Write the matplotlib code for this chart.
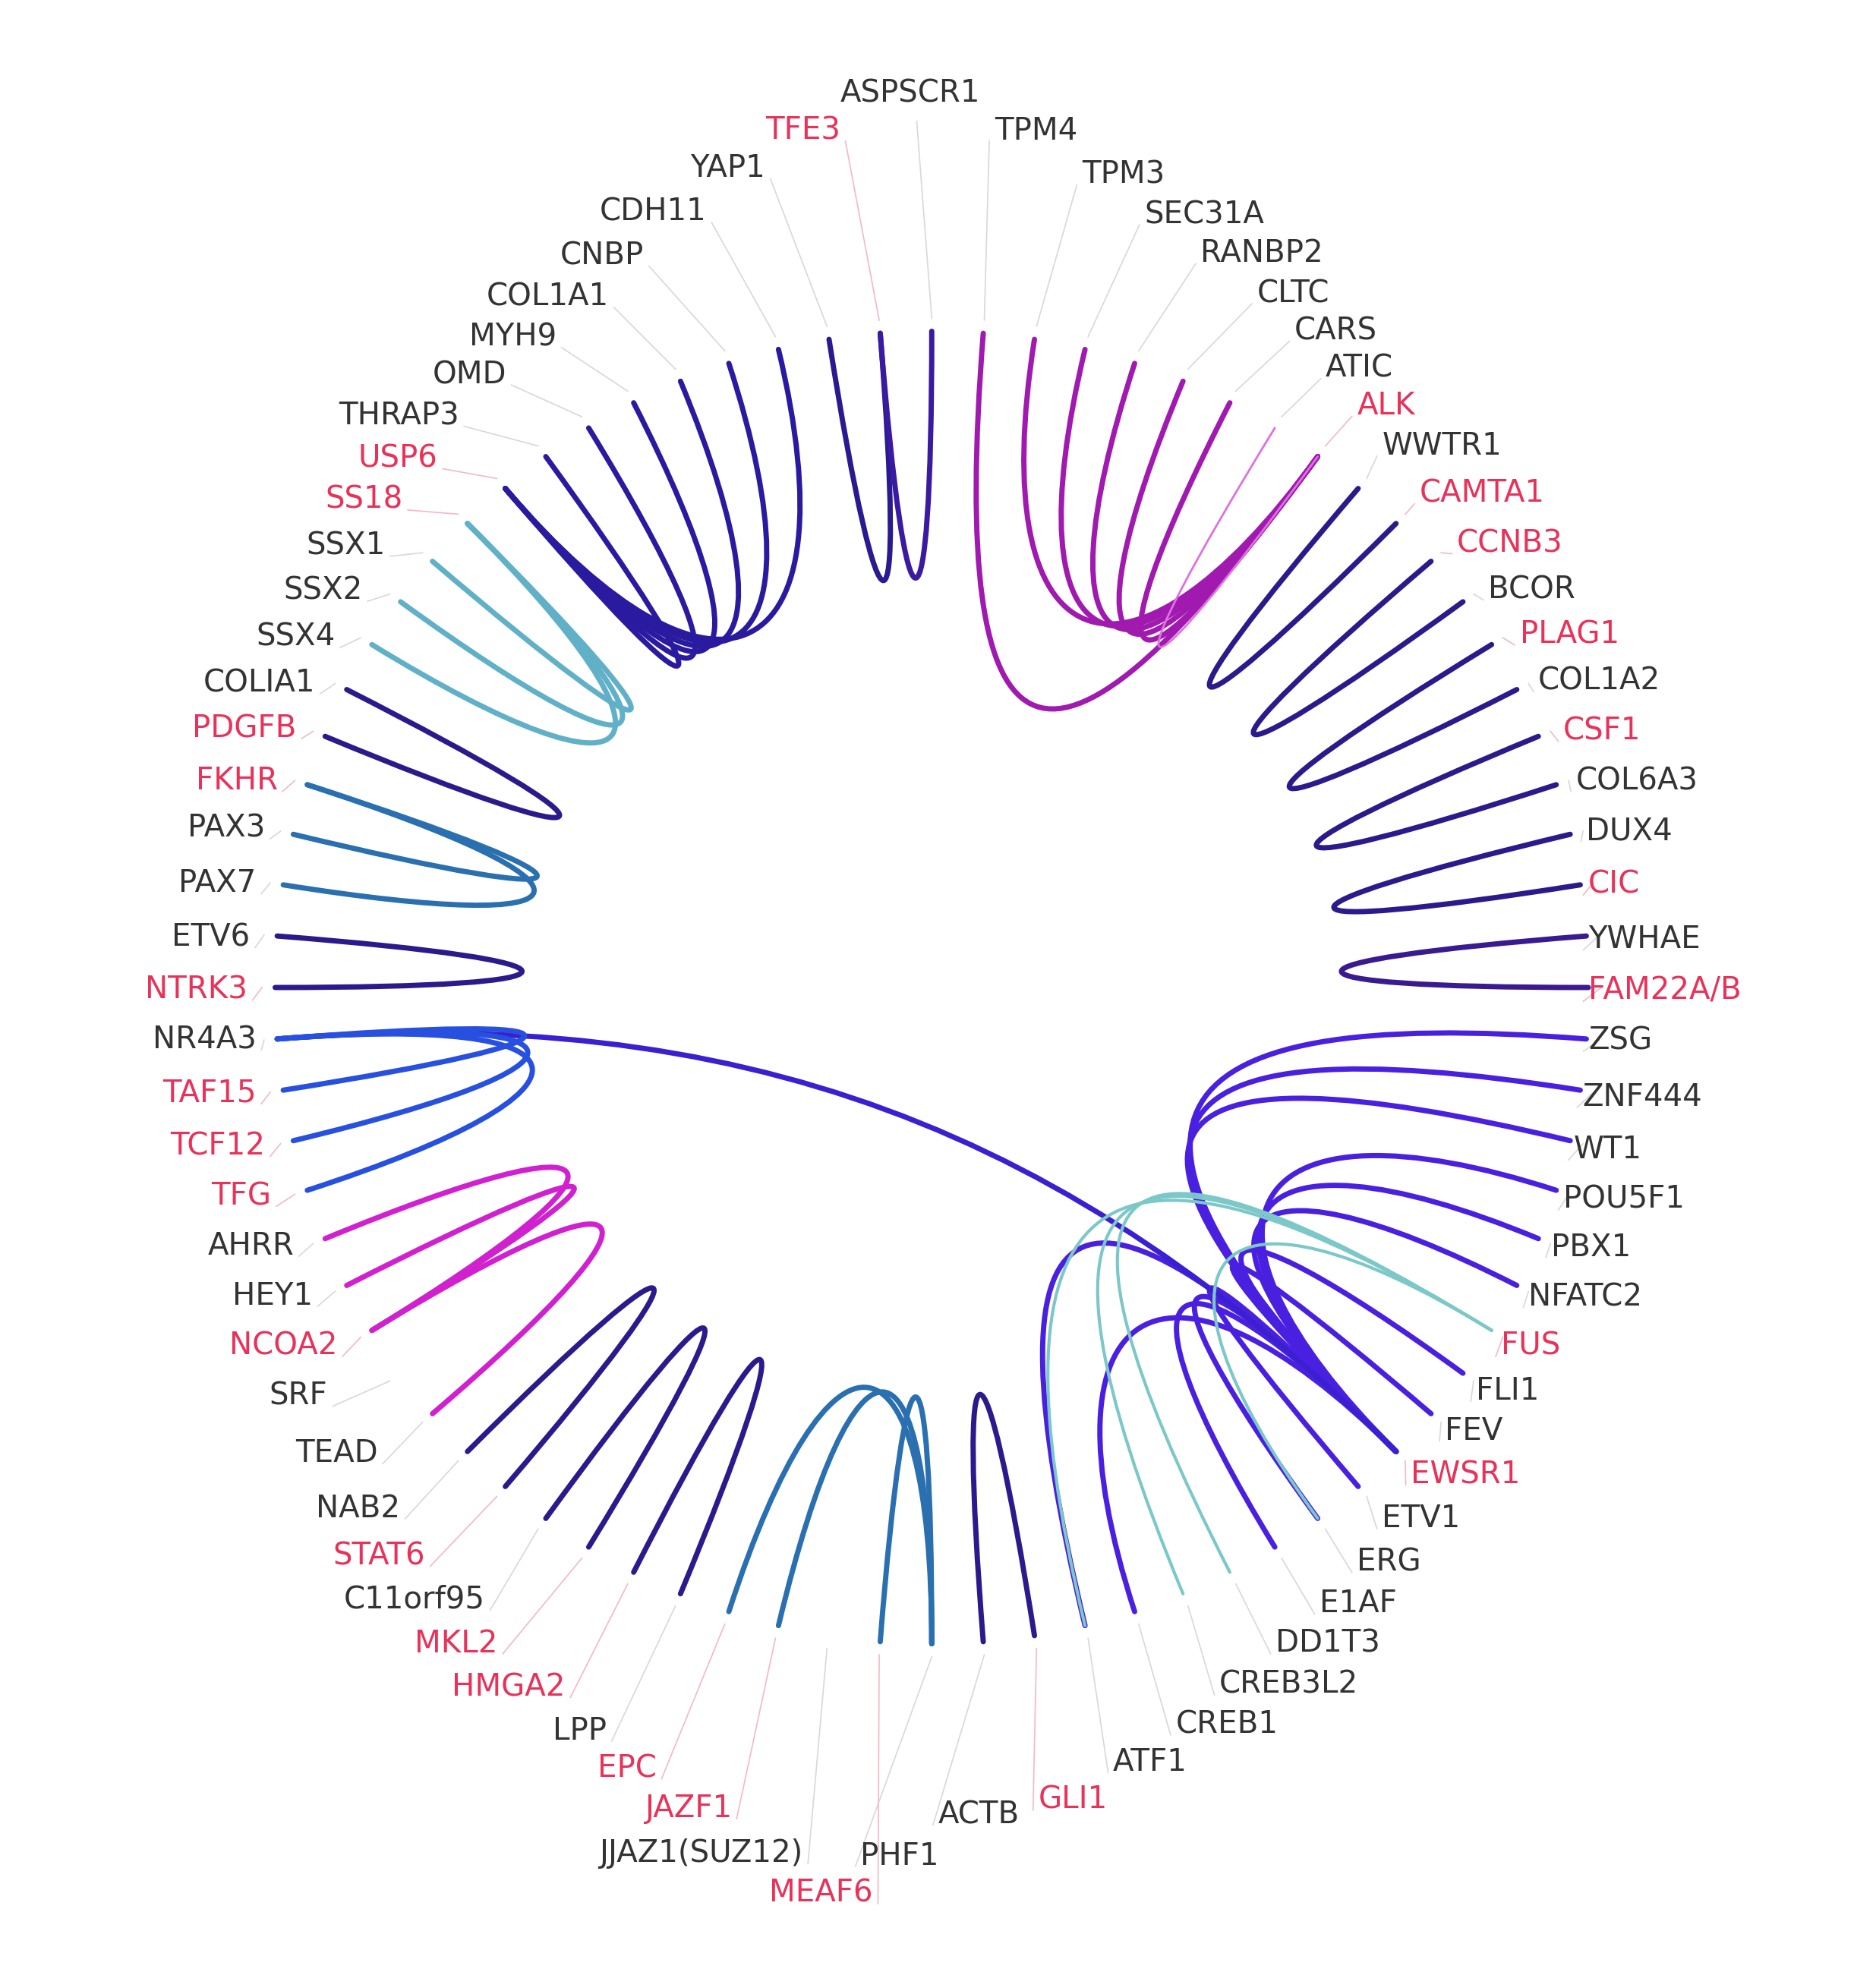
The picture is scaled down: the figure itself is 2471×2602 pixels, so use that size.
import numpy as np
import matplotlib.pyplot as plt
from matplotlib.path import Path
from matplotlib.patches import PathPatch

genes = ['ASPSCR1', 'TPM4', 'TPM3', 'SEC31A', 'RANBP2', 'CLTC', 'CARS', 'ATIC', 'ALK',
         'WWTR1', 'CAMTA1', 'CCNB3', 'BCOR', 'PLAG1', 'COL1A2', 'CSF1', 'COL6A3', 'DUX4',
         'CIC', 'YWHAE', 'FAM22A/B', 'ZSG', 'ZNF444', 'WT1', 'POU5F1', 'PBX1', 'NFATC2',
         'FUS', 'FLI1', 'FEV', 'EWSR1', 'ETV1', 'ERG', 'E1AF', 'DD1T3', 'CREB3L2', 'CREB1',
         'ATF1', 'GLI1', 'ACTB', 'PHF1', 'MEAF6', 'JJAZ1(SUZ12)', 'JAZF1', 'EPC', 'LPP',
         'HMGA2', 'MKL2', 'C11orf95', 'STAT6', 'NAB2', 'TEAD', 'SRF', 'NCOA2', 'HEY1', 'AHRR',
         'TFG', 'TCF12', 'TAF15', 'NR4A3', 'NTRK3', 'ETV6', 'PAX7', 'PAX3', 'FKHR', 'PDGFB',
         'COLIA1', 'SSX4', 'SSX2', 'SSX1', 'SS18', 'USP6', 'THRAP3', 'OMD', 'MYH9', 'COL1A1',
         'CNBP', 'CDH11', 'YAP1', 'TFE3']

red_genes = {'TFE3', 'ALK', 'CAMTA1', 'CCNB3', 'PLAG1', 'CSF1', 'CIC', 'FAM22A/B', 'FUS',
             'EWSR1', 'GLI1', 'MEAF6', 'JAZF1', 'EPC', 'HMGA2', 'MKL2', 'STAT6', 'NCOA2',
             'TFG', 'TCF12', 'TAF15', 'NTRK3', 'FKHR', 'PDGFB', 'SS18', 'USP6'}

# (gene a, gene b, colour, line width)
dark = '#2b1a8c'
links = (
    [('USP6', g, '#2a1aa0', 5) for g in ['THRAP3', 'OMD', 'MYH9', 'COL1A1', 'CNBP', 'CDH11']] +
    [('TFE3', 'YAP1', '#2a1a90', 5), ('TFE3', 'ASPSCR1', '#3a1aa0', 5)] +
    [('ALK', g, '#a01ab0', 5) for g in ['TPM4', 'TPM3', 'SEC31A', 'RANBP2', 'CLTC', 'CARS']] +
    [('ALK', 'ATIC', '#e070e0', 2)] +
    [('WWTR1', 'CAMTA1', dark, 5), ('CCNB3', 'BCOR', dark, 5), ('PLAG1', 'COL1A2', dark, 5),
     ('CSF1', 'COL6A3', dark, 5), ('DUX4', 'CIC', dark, 5), ('YWHAE', 'FAM22A/B', '#3a1a90', 5)] +
    [('EWSR1', g, '#4a20e0', 5) for g in ['ZSG', 'ZNF444', 'WT1', 'POU5F1', 'PBX1', 'NFATC2',
                                          'FLI1', 'FEV', 'ETV1', 'ERG', 'E1AF', 'CREB1', 'ATF1']] +
    [('EWSR1', 'NR4A3', '#3a20d0', 5)] +
    [('FUS', g, '#7cc8c8', 3) for g in ['CREB3L2', 'DD1T3', 'ERG', 'ATF1']] +
    [('GLI1', 'ACTB', dark, 5)] +
    [('PHF1', g, '#2a70b0', 5) for g in ['MEAF6', 'JAZF1', 'EPC']] +
    [('HMGA2', 'LPP', dark, 5), ('MKL2', 'C11orf95', dark, 5), ('STAT6', 'NAB2', dark, 5)] +
    [('NCOA2', g, '#d020d0', 5) for g in ['HEY1', 'TEAD', 'AHRR']] +
    [('NR4A3', g, '#2850e0', 5) for g in ['TAF15', 'TCF12', 'TFG']] +
    [('NTRK3', 'ETV6', dark, 5)] +
    [('FKHR', 'PAX3', '#2a70b0', 5), ('FKHR', 'PAX7', '#2a70b0', 5)] +
    [('PDGFB', 'COLIA1', dark, 5)] +
    [('SS18', g, '#60b0c8', 5) for g in ['SSX1', 'SSX2', 'SSX4']]
)

# label layout (display pixels, 1500-wide frame): right side -> left edge, left side -> right edge
right_lab = {
    'TPM4': (795, 105), 'TPM3': (865, 140), 'SEC31A': (915, 172), 'RANBP2': (960, 203),
    'CLTC': (1005, 235), 'CARS': (1035, 265), 'ATIC': (1060, 295), 'ALK': (1085, 325),
    'WWTR1': (1105, 357), 'CAMTA1': (1135, 395), 'CCNB3': (1165, 435), 'BCOR': (1190, 472),
    'PLAG1': (1215, 508), 'COL1A2': (1230, 545), 'CSF1': (1250, 585), 'COL6A3': (1260, 625),
    'DUX4': (1268, 665), 'CIC': (1270, 708), 'YWHAE': (1270, 752), 'FAM22A/B': (1270, 793),
    'ZSG': (1270, 833), 'ZNF444': (1265, 878), 'WT1': (1258, 920), 'POU5F1': (1250, 960),
    'PBX1': (1240, 998), 'NFATC2': (1222, 1038), 'FUS': (1200, 1077), 'FLI1': (1180, 1113),
    'FEV': (1155, 1145), 'EWSR1': (1128, 1180), 'ETV1': (1105, 1215), 'ERG': (1085, 1250),
    'E1AF': (1055, 1283), 'DD1T3': (1020, 1315), 'CREB3L2': (975, 1348), 'CREB1': (940, 1380),
    'ATF1': (890, 1410), 'GLI1': (830, 1440), 'ACTB': (750, 1452), 'PHF1': (688, 1485),
}
left_lab = {
    'TFE3': (672, 105), 'YAP1': (612, 135), 'CDH11': (565, 170), 'CNBP': (515, 205),
    'COL1A1': (487, 238), 'MYH9': (445, 270), 'OMD': (405, 300), 'THRAP3': (367, 333),
    'USP6': (350, 367), 'SS18': (322, 400), 'SSX1': (308, 437), 'SSX2': (290, 473),
    'SSX4': (268, 510), 'COLIA1': (252, 547), 'PDGFB': (237, 583), 'FKHR': (222, 625),
    'PAX3': (212, 663), 'PAX7': (205, 707), 'ETV6': (200, 750), 'NTRK3': (198, 792),
    'NR4A3': (205, 832), 'TAF15': (205, 875), 'TCF12': (212, 917), 'TFG': (217, 957),
    'AHRR': (235, 997), 'HEY1': (250, 1037), 'NCOA2': (270, 1077), 'SRF': (262, 1117),
    'TEAD': (302, 1163), 'NAB2': (320, 1207), 'STAT6': (340, 1245), 'C11orf95': (388, 1280),
    'MKL2': (398, 1315), 'HMGA2': (452, 1350), 'LPP': (485, 1385), 'EPC': (525, 1415),
    'JAZF1': (585, 1447), 'JJAZ1(SUZ12)': (642, 1483), 'MEAF6': (698, 1515),
}
centre_lab = {'ASPSCR1': (728, 75)}

W, H = 1500, 1580
cx, cy, R = 745, 790, 525
n = len(genes)
ang = {g: np.pi / 2 - 2 * np.pi * i / n for i, g in enumerate(genes)}

fig = plt.figure(figsize=(24.71, 26.02), dpi=100)
ax = fig.add_axes([0, 0, 1, 1])
ax.set_xlim(0, W)
ax.set_ylim(H, 0)
ax.axis('off')

def pt(g, r):
    t = ang[g]
    return np.array([cx + r * R * np.cos(t), cy - r * R * np.sin(t)])

for a, b, c, lw in links:
    pa, pb = pt(a, 1.0), pt(b, 1.0)
    gap = abs((ang[a] - ang[b] + np.pi) % (2 * np.pi) - np.pi)
    k = 0.5 if gap < 0.5 else 0.3
    verts = [pa, pt(a, k), pt(b, k), pb]
    path = Path(verts, [Path.MOVETO, Path.CURVE4, Path.CURVE4, Path.CURVE4])
    ax.add_patch(PathPatch(path, fc='none', ec=c, lw=lw, capstyle='round'))

for g in genes:
    if g in right_lab:
        (x, y), ha = right_lab[g], 'left'
        anchor = (x - 4, y + 8)
    elif g in left_lab:
        (x, y), ha = left_lab[g], 'right'
        anchor = (x + 4, y + 8)
    else:
        (x, y), ha = centre_lab[g], 'center'
        anchor = (x + 5, y + 22)
    col = '#e8325a' if g in red_genes else '#333333'
    e = pt(g, 1.02)
    ax.plot([anchor[0], e[0]], [anchor[1], e[1]], color='#d8d8d8' if col == '#333333' else '#f3b8c6', lw=1.2)
    ax.text(x, y, g, ha=ha, va='center', fontsize=29, color=col)

fig.savefig('out.png', dpi=100, facecolor='white')
